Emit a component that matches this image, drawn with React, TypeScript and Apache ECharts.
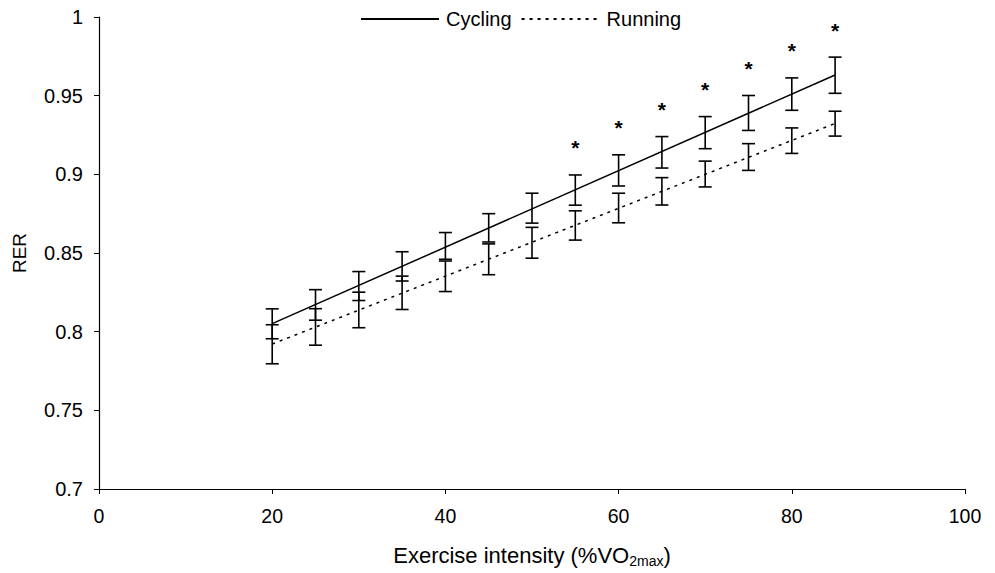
import React, { useEffect, useRef } from 'react';
import * as echarts from 'echarts';

const intensities = [20, 25, 30, 35, 40, 45, 50, 55, 60, 65, 70, 75, 80, 85];
const cyclingMean = [0.805, 0.817, 0.829, 0.8415, 0.8545, 0.866, 0.8785, 0.89, 0.9025, 0.914, 0.9265, 0.939, 0.951, 0.963];
const cyclingSD = [0.0095, 0.0097, 0.0092, 0.0093, 0.0085, 0.009, 0.0095, 0.0096, 0.0099, 0.01, 0.0102, 0.0111, 0.0103, 0.0115];
const runningMean = [0.792, 0.803, 0.8138, 0.8247, 0.8352, 0.846, 0.8565, 0.8675, 0.8786, 0.8892, 0.9002, 0.911, 0.9214, 0.9322];
const runningSD = [0.0124, 0.0116, 0.0113, 0.0106, 0.0097, 0.0098, 0.0098, 0.0093, 0.0094, 0.0087, 0.0082, 0.0085, 0.0081, 0.0079];
const significantIntensities = [55, 60, 65, 70, 75, 80, 85];
const seriesNames = ['Cycling', 'Running'];

const FONT = '"Liberation Sans", Arial, sans-serif';

function fitLine(xs: number[], ys: number[]): number[][] {
  const n = xs.length;
  const mx = xs.reduce((a, b) => a + b, 0) / n;
  const my = ys.reduce((a, b) => a + b, 0) / n;
  let sxy = 0;
  let sxx = 0;
  for (let i = 0; i < n; i++) {
    sxy += (xs[i] - mx) * (ys[i] - my);
    sxx += (xs[i] - mx) * (xs[i] - mx);
  }
  const slope = sxy / sxx;
  const icpt = my - slope * mx;
  const x0 = xs[0];
  const x1 = xs[n - 1];
  return [[x0, icpt + slope * x0], [x1, icpt + slope * x1]];
}

function errorBars(name: string, means: number[], sds: number[]) {
  return {
    type: 'custom',
    name,
    z: 3,
    encode: { x: 0, y: [1, 2] },
    data: intensities.map((x, i) => [x, means[i] - sds[i], means[i] + sds[i]]),
    renderItem: (params: any, api: any) => {
      const x = api.value(0);
      const lo = api.coord([x, api.value(1)]);
      const hi = api.coord([x, api.value(2)]);
      const hw = 6.5;
      const style = { stroke: '#000', lineWidth: 1.6, fill: 'none' };
      return {
        type: 'group',
        children: [
          { type: 'line', shape: { x1: lo[0], y1: lo[1], x2: hi[0], y2: hi[1] }, style },
          { type: 'line', shape: { x1: lo[0] - hw, y1: lo[1], x2: lo[0] + hw, y2: lo[1] }, style },
          { type: 'line', shape: { x1: hi[0] - hw, y1: hi[1], x2: hi[0] + hw, y2: hi[1] }, style },
        ],
      };
    },
  };
}

export default function App() {
  const ref = useRef<HTMLDivElement>(null);
  useEffect(() => {
    document.body.style.margin = '0';
    if (!ref.current) return;
    const chart = echarts.init(ref.current, null, { renderer: 'svg' });
    const sigData = significantIntensities.map((x) => {
      const i = intensities.indexOf(x);
      return [x, cyclingMean[i] + cyclingSD[i]];
    });
    const option: any = {
      animation: false,
      backgroundColor: '#fff',
      textStyle: { fontFamily: FONT, color: '#000' },
      grid: { left: 99, right: 30, top: 17, bottom: 82 },
      legend: {
        data: seriesNames,
        left: 355,
        top: 4,
        itemWidth: 78,
        itemHeight: 14,
        itemGap: 9,
        itemStyle: { opacity: 0 },
        textStyle: { fontSize: 20, color: '#000', fontFamily: FONT, padding: [0, 0, 0, 2] },
      },
      xAxis: {
        type: 'value',
        min: 0,
        max: 100,
        interval: 20,
        name: 'Exercise intensity (%VO{sub|2max})',
        nameLocation: 'middle',
        nameGap: 53,
        nameTextStyle: {
          fontSize: 22,
          color: '#000',
          fontFamily: FONT,
          rich: { sub: { fontSize: 14, fontFamily: FONT, color: '#000', padding: [12, 0, 0, 0] } },
        },
        axisLine: { lineStyle: { color: '#000', width: 1.2 } },
        axisTick: { show: true, inside: false, length: 5, lineStyle: { color: '#000' } },
        axisLabel: { fontSize: 19.5, color: '#000', fontFamily: FONT, margin: 17 },
        splitLine: { show: false },
      },
      yAxis: {
        type: 'value',
        min: 0.7,
        max: 1,
        interval: 0.05,
        name: 'RER',
        nameLocation: 'middle',
        nameGap: 70,
        nameTextStyle: { fontSize: 19, color: '#000', fontFamily: FONT },
        axisLine: { show: true, lineStyle: { color: '#000', width: 1.2 } },
        axisTick: { show: true, inside: false, length: 5, lineStyle: { color: '#000' } },
        axisLabel: {
          fontSize: 20,
          color: '#000',
          fontFamily: FONT,
          margin: 16,
          formatter: (v: number) => String(+v.toFixed(2)),
        },
        splitLine: { show: false },
      },
      series: [
        {
          type: 'line',
          name: seriesNames[0],
          data: fitLine(intensities, cyclingMean),
          symbol: 'none',
          lineStyle: { color: '#000', width: 1.5, type: 'solid' },
          itemStyle: { color: '#000' },
          z: 2,
        },
        {
          type: 'line',
          name: seriesNames[1],
          data: fitLine(intensities, runningMean),
          symbol: 'none',
          lineStyle: { color: '#000', width: 1.5, type: [3, 5] },
          itemStyle: { color: '#000' },
          z: 2,
        },
        errorBars('Cycling SD', cyclingMean, cyclingSD),
        errorBars('Running SD', runningMean, runningSD),
        {
          type: 'custom',
          name: 'Significance',
          z: 4,
          data: sigData,
          renderItem: (params: any, api: any) => {
            const p = api.coord([api.value(0), api.value(1)]);
            return {
              type: 'text',
              x: p[0],
              y: p[1] - 27,
              style: {
                text: '*',
                fill: '#000',
                fontSize: 21,
                fontWeight: 'bold',
                fontFamily: FONT,
                align: 'center',
                verticalAlign: 'middle',
              },
            };
          },
        },
      ],
    };
    chart.setOption(option);
    return () => chart.dispose();
  }, []);
  return <div ref={ref} style={{ width: 995, height: 573 }} />;
}
